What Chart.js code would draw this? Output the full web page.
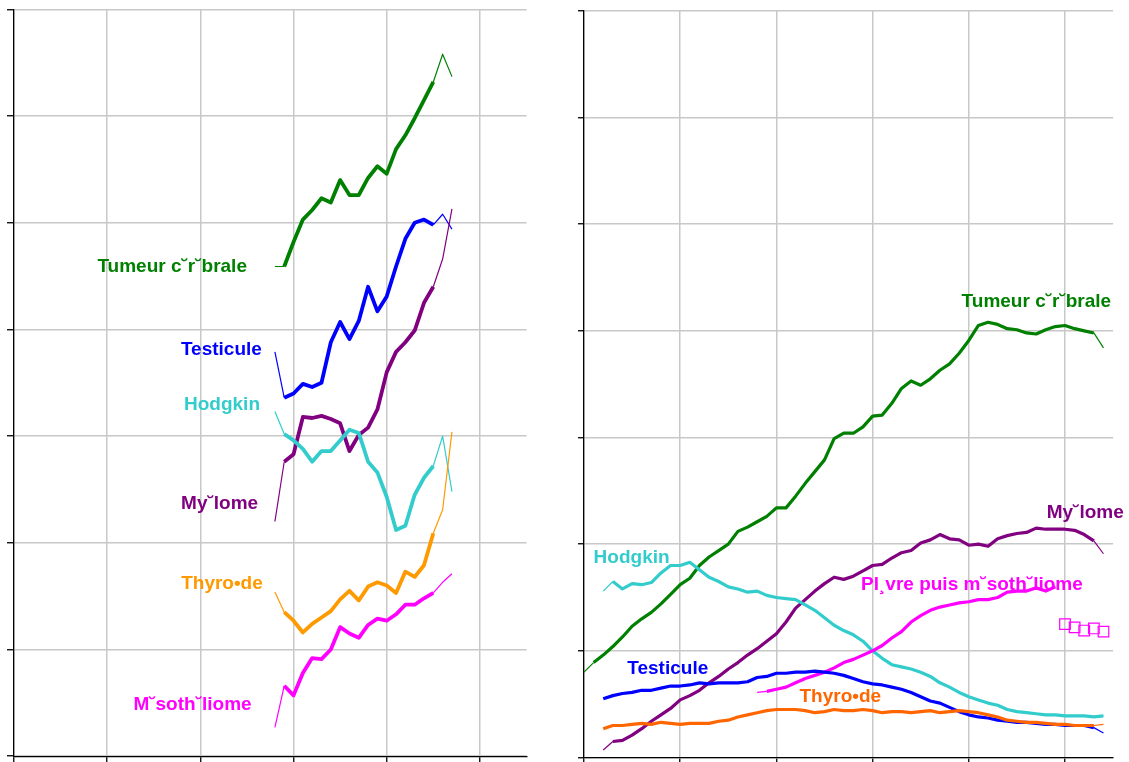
<!DOCTYPE html>
<html lang="fr">
<head>
<meta charset="utf-8">
<title>Incidence des cancers</title>
<script src="https://cdn.jsdelivr.net/npm/chart.js@4.4.0/dist/chart.umd.min.js"></script>
<style>
    html, body { margin: 0; padding: 0; background: #fff; }
    body { width: 1129px; height: 762px; position: relative; overflow: hidden; }
    .panel { position: absolute; top: 0; height: 762px; }
    #leftPanel { left: 0; width: 545px; }
    #rightPanel { left: 560px; width: 569px; }
    canvas { display: block; }
</style>
</head>
<body>
<div class="panel" id="leftPanel"><canvas id="leftChart" width="545" height="762"></canvas></div>
<div class="panel" id="rightPanel"><canvas id="rightChart" width="569" height="762"></canvas></div>
<script>
// Left panel: trends by year
const leftXTicks = [1950, 1960, 1970, 1980, 1990, 2000];
const leftYears = [1978, 1979, 1980, 1981, 1982, 1983, 1984, 1985, 1986, 1987,
                   1988, 1989, 1990, 1991, 1992, 1993, 1994, 1995, 1996, 1997];
const leftTumeur    = [45.9, 45.9, 48.2, 50.3, 51.2, 52.3, 51.9, 54.0, 52.6, 52.6, 54.2, 55.3, 54.6, 56.9, 58.2, 59.8, 61.5, 63.2, 65.8, 63.7];
const leftTesticule = [37.9, 33.6, 34.0, 34.9, 34.6, 35.0, 38.8, 40.7, 39.1, 40.8, 44.0, 41.7, 43.1, 45.9, 48.5, 50.0, 50.3, 49.8, 50.8, 49.4];
const leftHodgkin   = [32.3, 30.2, 29.6, 28.8, 27.6, 28.6, 28.6, 29.6, 30.6, 30.3, 27.6, 26.6, 24.3, 21.2, 21.6, 24.5, 26.1, 27.2, 30.0, 24.8];
const leftMyelome   = [22.0, 27.6, 28.3, 31.8, 31.7, 31.9, 31.6, 31.2, 28.6, 30.1, 30.8, 32.5, 36.0, 37.9, 38.8, 39.9, 42.5, 44.0, 46.6, 51.3];
const leftThyroide  = [15.4, 13.5, 12.7, 11.6, 12.4, 13.0, 13.6, 14.7, 15.5, 14.6, 15.9, 16.3, 16.0, 15.3, 17.3, 16.8, 17.9, 20.9, 23.1, 30.4];
const leftMeso      = [2.7, 6.6, 5.7, 7.8, 9.2, 9.1, 10.0, 12.1, 11.5, 11.1, 12.3, 12.9, 12.7, 13.3, 14.2, 14.2, 14.8, 15.3, 16.3, 17.1];

// Right panel
const rightXTicks = [0, 10, 20, 30, 40, 50];
const rightX = [0, 1, 2, 3, 4, 5, 6, 7, 8, 9, 10, 11, 12, 13, 14, 15, 16, 17, 18, 19,
                20, 21, 22, 23, 24, 25, 26, 27, 28, 29, 30, 31, 32, 33, 34, 35, 36, 37, 38, 39,
                40, 41, 42, 43, 44, 45, 46, 47, 48, 49, 50, 51, 52, 53, 54];
const rightTumeur = [8.0, 8.9, 9.6, 10.4, 11.3, 12.3, 13.0, 13.6, 14.4, 15.3, 16.2, 16.8, 18.0, 18.8, 19.4, 20.0, 21.2, 21.6, 22.1, 22.6,
                     23.4, 23.4, 24.5, 25.7, 26.8, 27.9, 29.9, 30.4, 30.4, 31.0, 32.0, 32.1, 33.2, 34.6, 35.3, 34.9, 35.5, 36.3, 36.9, 37.9,
                     39.1, 40.5, 40.8, 40.6, 40.2, 40.1, 39.8, 39.7, 40.1, 40.4, 40.5, 40.2, 40.0, 39.8, 38.4];
// the next series start at x = 2
const rightHodgkin = [15.6, 16.5, 15.8, 16.3, 16.2, 16.4, 17.3, 18.0, 18.0, 18.3, 17.6, 16.9, 16.5, 16.0, 15.8, 15.5, 15.6, 15.2,
                      15.0, 14.9, 14.8, 14.3, 13.8, 13.1, 12.4, 11.9, 11.5, 10.9, 10.0, 9.3, 8.7, 8.5, 8.3, 8.0, 7.6, 7.0, 6.6,
                      6.1, 5.7, 5.4, 5.1, 4.9, 4.5, 4.3, 4.2, 4.1, 4.0, 4.0, 3.9, 3.9, 3.9, 3.8, 3.9];
const rightTesticule = [5.5, 5.8, 6.0, 6.1, 6.3, 6.3, 6.5, 6.7, 6.7, 6.8, 7.0, 6.9, 7.0, 7.0, 7.0, 7.1, 7.5, 7.6,
                        7.9, 7.9, 8.0, 8.0, 8.1, 8.0, 7.9, 7.7, 7.4, 7.1, 6.9, 6.8, 6.6, 6.4, 6.1, 5.7, 5.3, 5.1, 4.7,
                        4.3, 4.0, 3.8, 3.7, 3.5, 3.4, 3.3, 3.3, 3.2, 3.1, 3.1, 3.0, 3.0, 3.0, 2.8, 2.3];
const rightThyroide = [2.7, 3.0, 3.0, 3.1, 3.2, 3.1, 3.3, 3.2, 3.1, 3.2, 3.2, 3.2, 3.4, 3.5, 3.8, 4.0, 4.2, 4.4,
                       4.5, 4.5, 4.5, 4.4, 4.2, 4.3, 4.5, 4.4, 4.4, 4.5, 4.4, 4.2, 4.3, 4.3, 4.2, 4.3, 4.4, 4.2, 4.3,
                       4.4, 4.3, 4.2, 4.0, 3.8, 3.5, 3.4, 3.3, 3.3, 3.2, 3.1, 3.1, 3.0, 3.0, 3.0, 3.1];
const rightMyelome = [0.7, 1.5, 1.6, 2.1, 2.7, 3.4, 4.0, 4.6, 5.4, 5.8, 6.3, 7.0, 7.6, 8.3, 8.9, 9.6, 10.2, 10.9,
                      11.6, 12.7, 14.0, 14.8, 15.6, 16.3, 16.9, 16.7, 17.0, 17.5, 18.0, 18.1, 18.7, 19.2, 19.4, 20.1, 20.4, 20.9, 20.5,
                      20.4, 19.9, 20.0, 19.8, 20.5, 20.8, 21.0, 21.1, 21.5, 21.4, 21.4, 21.4, 21.3, 20.9, 20.3, 19.1];
// starts at x = 18
const rightPlevre = [6.1, 6.2, 6.4, 6.6, 7.0, 7.4, 7.7, 8.0, 8.4, 8.9, 9.2, 9.6, 10.0, 10.5, 11.2, 11.8,
                     12.7, 13.3, 13.8, 14.1, 14.3, 14.5, 14.6, 14.8, 14.8, 15.0, 15.5, 15.6, 15.6, 15.9, 15.6, 16.0];
// starts at x = 50
const rightMesoSquares = [12.5, 12.2, 11.9, 12.1, 11.8];

const yTicks = [0, 10, 20, 30, 40, 50, 60, 70];

const GREEN = '#008000';
const BLUE = '#0000ff';
const PURPLE = '#800080';
const CYAN = '#33cccc';
const ORANGE = '#ff9900';
const RED_ORANGE = '#ff6600';
const MAGENTA = '#ff00ff';
const GRID = 'rgb(200,200,200)';
const THIN = 1.2;
const LABEL_FONT = 'bold 19px "Liberation Sans", Arial, sans-serif';

Chart.defaults.font.family = '"Liberation Sans", Arial, sans-serif';

function points(xs, ys, start = 0) {
    return ys.map((y, i) => ({ x: xs[start + i], y: y }));
}

// thick line between xFrom and xTo, thin ends outside
function lineSet(label, data, color, width, xFrom, xTo) {
    return {
        label: label,
        data: data,
        borderColor: color,
        backgroundColor: color,
        borderWidth: width,
        borderJoinStyle: 'round',
        pointRadius: 0,
        tension: 0,
        segment: {
            borderWidth: c => {
                const a = data[c.p0DataIndex].x;
                const b = data[c.p1DataIndex].x;
                return (a >= xFrom && b <= xTo) ? width : THIN;
            }
        }
    };
}

function labelPlugin(items) {
    return {
        id: 'seriesLabels',
        afterDatasetsDraw(chart) {
            const { ctx, scales: { x, y } } = chart;
            ctx.save();
            ctx.font = LABEL_FONT;
            ctx.textBaseline = 'middle';
            items.forEach(l => {
                ctx.fillStyle = l.color;
                ctx.textAlign = l.align;
                ctx.fillText(l.text, x.getPixelForValue(l.x), y.getPixelForValue(l.y) + 1);
            });
            ctx.restore();
        }
    };
}

function scaleOptions(xMin, xMax, xTicks, tickX, tickY) {
    return {
        x: {
            type: 'linear',
            min: xMin,
            max: xMax,
            afterBuildTicks: axis => { axis.ticks = xTicks.map(v => ({ value: v })); },
            afterFit: axis => { axis.height = tickX; },
            ticks: { display: false },
            grid: { color: GRID, lineWidth: 1.5, tickLength: tickX, tickColor: '#000', tickWidth: 1.3 },
            border: { color: '#000', width: 1.3 }
        },
        y: {
            type: 'linear',
            min: 0,
            max: 70,
            afterBuildTicks: axis => { axis.ticks = yTicks.map(v => ({ value: v })); },
            afterFit: axis => { axis.width = tickY; },
            ticks: { display: false },
            grid: { color: GRID, lineWidth: 1.5, tickLength: tickY, tickColor: '#000', tickWidth: 1.3 },
            border: { color: '#000', width: 1.3 }
        }
    };
}

function baseOptions(padding, scales) {
    return {
        responsive: false,
        animation: false,
        events: [],
        layout: { padding: padding, autoPadding: false },
        plugins: { legend: { display: false }, tooltip: { enabled: false } },
        scales: scales
    };
}

// Left chart
new Chart(document.getElementById('leftChart'), {
    type: 'line',
    data: {
        datasets: [
            lineSet('Thyroïde', points(leftYears, leftThyroide), ORANGE, 3.8, 1979, 1995),
            lineSet('Mésothéliome', points(leftYears, leftMeso), MAGENTA, 3.8, 1979, 1995),
            lineSet('Hodgkin', points(leftYears, leftHodgkin), CYAN, 3.8, 1979, 1995),
            lineSet('Myélome', points(leftYears, leftMyelome), PURPLE, 3.8, 1979, 1995),
            lineSet('Testicule', points(leftYears, leftTesticule), BLUE, 3.8, 1979, 1995),
            lineSet('Tumeur cérébrale', points(leftYears, leftTumeur), GREEN, 3.8, 1979, 1995)
        ]
    },
    options: baseOptions({ left: 7, top: 9.4, right: 18.5, bottom: 0 },
        scaleOptions(1950, 2005, leftXTicks, 5.8, 7)),
    plugins: [labelPlugin([
        { text: 'Tumeur c˘r˘brale', x: 1975.0, y: 46.0, color: GREEN, align: 'right' },
        { text: 'Testicule', x: 1976.6, y: 38.2, color: BLUE, align: 'right' },
        { text: 'Hodgkin', x: 1976.4, y: 33.0, color: CYAN, align: 'right' },
        { text: 'My˘lome', x: 1976.2, y: 23.8, color: PURPLE, align: 'right' },
        { text: 'Thyro•de', x: 1976.7, y: 16.3, color: ORANGE, align: 'right' },
        { text: 'M˘soth˘liome', x: 1975.5, y: 4.9, color: MAGENTA, align: 'right' }
    ])]
});

// Right chart
new Chart(document.getElementById('rightChart'), {
    type: 'line',
    data: {
        datasets: [
            {
                label: 'Mésothéliome',
                data: points(rightX, rightMesoSquares, 50),
                showLine: false,
                pointStyle: 'rect',
                pointRadius: 7.5,
                borderColor: MAGENTA,
                borderWidth: 1.2,
                backgroundColor: 'rgba(0,0,0,0)'
            },
            lineSet('Thyroïde', points(rightX, rightThyroide, 2), RED_ORANGE, 3.2, 2, 53),
            lineSet('Testicule', points(rightX, rightTesticule, 2), BLUE, 3.2, 2, 53),
            lineSet('Plèvre puis mésothéliome', points(rightX, rightPlevre, 18), MAGENTA, 3.2, 19, 49),
            lineSet('Hodgkin', points(rightX, rightHodgkin, 2), CYAN, 3.2, 3, 54),
            lineSet('Myélome', points(rightX, rightMyelome, 2), PURPLE, 3.2, 3, 53),
            lineSet('Tumeur cérébrale', points(rightX, rightTumeur), GREEN, 3.2, 1, 53)
        ]
    },
    options: baseOptions({ left: 18, top: 10.8, right: 15.9, bottom: 0 },
        scaleOptions(0, 55, rightXTicks, 4.5, 6)),
    plugins: [labelPlugin([
        { text: 'Tumeur c˘r˘brale', x: 54.8, y: 42.8, color: GREEN, align: 'right' },
        { text: 'My˘lome', x: 48.1, y: 23.0, color: PURPLE, align: 'left' },
        { text: 'Hodgkin', x: 1.0, y: 18.8, color: CYAN, align: 'left' },
        { text: 'Testicule', x: 4.5, y: 8.4, color: BLUE, align: 'left' },
        { text: 'Thyro•de', x: 22.4, y: 5.8, color: RED_ORANGE, align: 'left' },
        { text: 'Pl¸vre puis m˘soth˘liome', x: 28.8, y: 16.3, color: MAGENTA, align: 'left' }
    ])]
});
</script>
</body>
</html>
